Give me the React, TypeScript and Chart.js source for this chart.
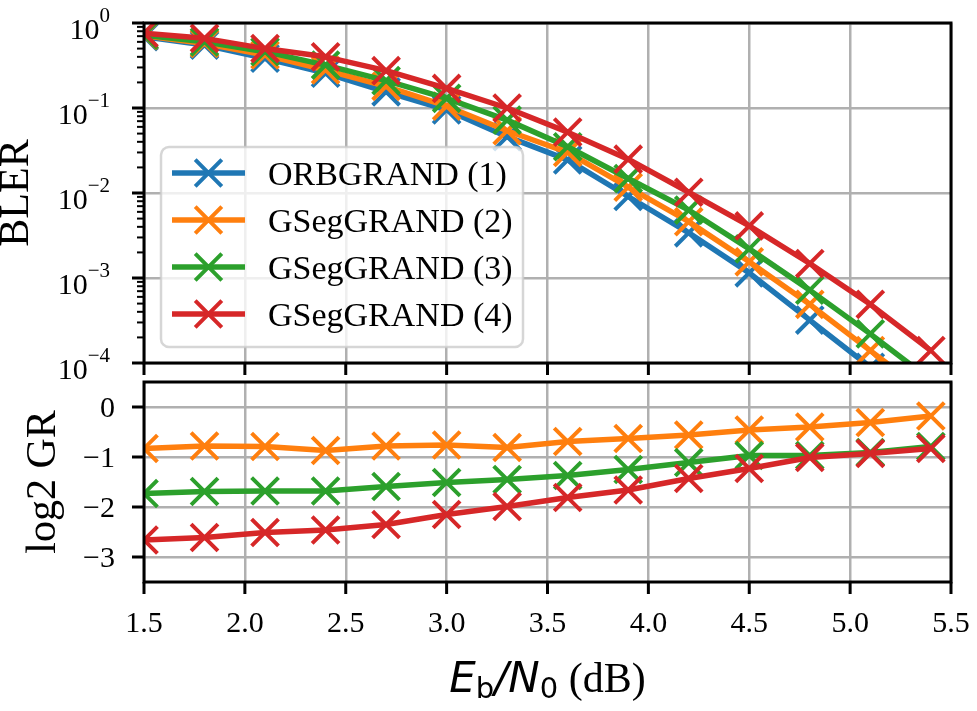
import React, { useEffect, useRef } from "react";
import { Chart, registerables } from "chart.js";

Chart.register(...registerables);

const W = 977;
const H = 711;

// Eb/N0 operating points (dB)
const ebn0 = [1.5, 1.8, 2.1, 2.4, 2.7, 3.0, 3.3, 3.6, 3.9, 4.2, 4.5, 4.8, 5.1, 5.4];

// Axis tick values
const xTicks = [1.5, 2.0, 2.5, 3.0, 3.5, 4.0, 4.5, 5.0, 5.5];
const blerTicks = [1e-4, 1e-3, 1e-2, 1e-1, 1];
const grTicks = [-3, -2, -1, 0];

const seriesNames = ["ORBGRAND (1)", "GSegGRAND (2)", "GSegGRAND (3)", "GSegGRAND (4)"];
const seriesColors = ["#1f77b4", "#ff7f0e", "#2ca02c", "#d62728"];

// Block error rate per decoder
const blerOrbgrand1 = [0.69, 0.55, 0.385, 0.257, 0.155, 0.095, 0.046, 0.0245, 0.0091, 0.0034, 0.00115, 0.00032, 0.000089, 0.000025];
const blerGseg2 = [0.71, 0.575, 0.42, 0.28, 0.18, 0.105, 0.054, 0.03, 0.0117, 0.0046, 0.00155, 0.00049, 0.00014, 0.00004];
const blerGseg3 = [0.72, 0.6, 0.46, 0.32, 0.21, 0.13, 0.072, 0.035, 0.0148, 0.0063, 0.0022, 0.00072, 0.00022, 0.000063];
const blerGseg4 = [0.76, 0.66, 0.5, 0.4, 0.275, 0.17, 0.1, 0.052, 0.025, 0.0102, 0.0041, 0.00148, 0.00049, 0.00014];

// log2 of guesswork ratio relative to ORBGRAND
const grGseg2 = [-0.83, -0.78, -0.79, -0.87, -0.78, -0.76, -0.81, -0.69, -0.63, -0.56, -0.46, -0.4, -0.31, -0.18];
const grGseg3 = [-1.73, -1.69, -1.68, -1.68, -1.59, -1.51, -1.45, -1.37, -1.25, -1.11, -0.97, -0.97, -0.91, -0.79];
const grGseg4 = [-2.66, -2.61, -2.51, -2.46, -2.35, -2.15, -1.99, -1.81, -1.66, -1.43, -1.23, -1.01, -0.93, -0.83];

const SERIF = "'Liberation Serif', 'Times New Roman', Times, serif";
const SANS = "'DejaVu Sans', sans-serif";
const GRID = "#b0b0b0";

const TOP_AREA = { left: 144, right: 951, top: 23, bottom: 363 };
const BOTTOM_AREA = { left: 144, right: 951, top: 382, bottom: 582 };

const TICK_FONT = 30;
const LABEL_FONT = 42;
const LEGEND_FONT = 34;

function line(ctx: CanvasRenderingContext2D, x1: number, y1: number, x2: number, y2: number, w: number, color = "#000") {
  ctx.beginPath();
  ctx.moveTo(x1, y1);
  ctx.lineTo(x2, y2);
  ctx.lineWidth = w;
  ctx.strokeStyle = color;
  ctx.lineCap = "butt";
  ctx.stroke();
}

function drawCross(ctx: CanvasRenderingContext2D, cx: number, cy: number, half: number, color: string, lw: number) {
  ctx.beginPath();
  ctx.moveTo(cx - half, cy - half);
  ctx.lineTo(cx + half, cy + half);
  ctx.moveTo(cx - half, cy + half);
  ctx.lineTo(cx + half, cy - half);
  ctx.strokeStyle = color;
  ctx.lineWidth = lw;
  ctx.lineCap = "butt";
  ctx.stroke();
}

function roundRectPath(ctx: CanvasRenderingContext2D, x: number, y: number, w: number, h: number, r: number) {
  ctx.beginPath();
  ctx.moveTo(x + r, y);
  ctx.lineTo(x + w - r, y);
  ctx.arcTo(x + w, y, x + w, y + r, r);
  ctx.lineTo(x + w, y + h - r);
  ctx.arcTo(x + w, y + h, x + w - r, y + h, r);
  ctx.lineTo(x + r, y + h);
  ctx.arcTo(x, y + h, x, y + h - r, r);
  ctx.lineTo(x, y + r);
  ctx.arcTo(x, y, x + r, y, r);
  ctx.closePath();
}

function drawFrameAndXTicks(chart: any, showLabels: boolean) {
  const { ctx, chartArea: a } = chart;
  const xs = chart.scales.x;
  ctx.save();
  for (const v of xTicks) {
    const px = xs.getPixelForValue(v);
    line(ctx, px, a.bottom, px, a.bottom + 12, 3);
    if (showLabels) {
      ctx.font = `${TICK_FONT}px ${SERIF}`;
      ctx.fillStyle = "#000";
      ctx.textAlign = "center";
      ctx.textBaseline = "alphabetic";
      ctx.fillText(v.toFixed(1), px, a.bottom + 50);
    }
  }
  ctx.strokeStyle = "#000";
  ctx.lineWidth = 3;
  ctx.strokeRect(a.left, a.top, a.right - a.left, a.bottom - a.top);
  ctx.restore();
}

const topDecorations = {
  id: "topDecorations",
  afterDraw(chart: any) {
    const { ctx, chartArea: a } = chart;
    const ys = chart.scales.y;
    drawFrameAndXTicks(chart, false);
    ctx.save();
    // minor ticks on the log axis
    for (let k = -4; k < 0; k++) {
      for (let m = 2; m <= 9; m++) {
        const py = ys.getPixelForValue(m * Math.pow(10, k));
        line(ctx, a.left - 7, py, a.left, py, 2);
      }
    }
    // major ticks with 10^k labels
    for (const v of blerTicks) {
      const py = ys.getPixelForValue(v);
      line(ctx, a.left - 12, py, a.left, py, 3);
      const k = Math.round(Math.log10(v));
      const exp = k === 0 ? "0" : "\u2212" + Math.abs(k);
      ctx.fillStyle = "#000";
      ctx.textBaseline = "alphabetic";
      ctx.textAlign = "left";
      ctx.font = `21px ${SERIF}`;
      const ew = ctx.measureText(exp).width;
      ctx.font = `${TICK_FONT}px ${SERIF}`;
      const bw = ctx.measureText("10").width;
      const right = 110;
      ctx.fillText("10", right - ew - bw, py + 16);
      ctx.font = `21px ${SERIF}`;
      ctx.fillText(exp, right - ew, py - 1.5);
    }
    // y axis title
    ctx.save();
    ctx.translate(28, (a.top + a.bottom) / 2);
    ctx.rotate(-Math.PI / 2);
    ctx.font = `${LABEL_FONT}px ${SERIF}`;
    ctx.textAlign = "center";
    ctx.textBaseline = "alphabetic";
    ctx.fillStyle = "#000";
    ctx.fillText("BLER", 0, 0);
    ctx.restore();

    // legend
    const lx = 161, ly = 147, lw = 362, lh = 200;
    roundRectPath(ctx, lx, ly, lw, lh, 8);
    ctx.fillStyle = "rgba(255,255,255,0.8)";
    ctx.fill();
    ctx.strokeStyle = "rgba(204,204,204,0.8)";
    ctx.lineWidth = 2.5;
    ctx.stroke();
    const rows = [173, 220, 267, 314];
    seriesNames.forEach((name, i) => {
      const y = rows[i];
      line(ctx, 172, y, 245, y, 5.5, seriesColors[i]);
      drawCross(ctx, 208.5, y, 13.3, seriesColors[i], 4);
      ctx.font = `${LEGEND_FONT}px ${SERIF}`;
      ctx.fillStyle = "#000";
      ctx.textAlign = "left";
      ctx.textBaseline = "alphabetic";
      ctx.fillText(name, 268, y + 11.5);
    });
    ctx.restore();
  },
};

const bottomDecorations = {
  id: "bottomDecorations",
  afterDraw(chart: any) {
    const { ctx, chartArea: a } = chart;
    const ys = chart.scales.y;
    drawFrameAndXTicks(chart, true);
    ctx.save();
    for (const v of grTicks) {
      const py = ys.getPixelForValue(v);
      line(ctx, a.left - 12, py, a.left, py, 3);
      ctx.font = `${TICK_FONT}px ${SERIF}`;
      ctx.fillStyle = "#000";
      ctx.textAlign = "right";
      ctx.textBaseline = "alphabetic";
      ctx.fillText(v < 0 ? "\u2212" + Math.abs(v) : String(v), 115, py + 10);
    }
    // y axis title
    ctx.save();
    ctx.translate(55, (a.top + a.bottom) / 2);
    ctx.rotate(-Math.PI / 2);
    ctx.font = `${LABEL_FONT}px ${SERIF}`;
    ctx.textAlign = "center";
    ctx.textBaseline = "alphabetic";
    ctx.fillStyle = "#000";
    ctx.fillText("log2 GR", 0, 0);
    ctx.restore();

    // x axis title: E_b/N_0 (dB)
    const pieces = [
      { t: "E", f: `oblique ${LABEL_FONT}px ${SANS}`, dy: 0 },
      { t: "b", f: `29px ${SANS}`, dy: 6 },
      { t: "/", f: `oblique ${LABEL_FONT}px ${SANS}`, dy: 0 },
      { t: "N", f: `oblique ${LABEL_FONT}px ${SANS}`, dy: 0 },
      { t: "0", f: `29px ${SANS}`, dy: 6 },
      { t: " (dB)", f: `${LABEL_FONT}px ${SERIF}`, dy: 0 },
    ];
    let total = 0;
    const widths = pieces.map((p) => {
      ctx.font = p.f;
      const w = ctx.measureText(p.t).width;
      total += w;
      return w;
    });
    let x = (a.left + a.right) / 2 - total / 2;
    const base = 692;
    ctx.textAlign = "left";
    ctx.textBaseline = "alphabetic";
    ctx.fillStyle = "#000";
    pieces.forEach((p, i) => {
      ctx.font = p.f;
      ctx.fillText(p.t, x, base + p.dy);
      x += widths[i];
    });
    ctx.restore();
  },
};

function makeDataset(label: string, values: number[], color: string, order: number) {
  return {
    label,
    data: ebn0.map((x, i) => ({ x, y: values[i] })),
    borderColor: color,
    backgroundColor: color,
    borderWidth: 5.5,
    borderJoinStyle: "round" as const,
    pointStyle: "crossRot" as const,
    pointRadius: 19,
    pointBorderWidth: 4,
    pointBorderColor: color,
    pointBackgroundColor: color,
    tension: 0,
    clip: 0,
    order,
  };
}

function xScale(area: typeof TOP_AREA) {
  return {
    type: "linear" as const,
    min: 1.5,
    max: 5.5,
    afterBuildTicks: (s: any) => {
      s.ticks = xTicks.map((v) => ({ value: v }));
    },
    afterFit: (s: any) => {
      s.height = H - area.bottom;
    },
    ticks: { display: false },
    grid: { color: GRID, lineWidth: 2.5, drawTicks: false },
    border: { display: false },
  };
}

function commonOptions(area: typeof TOP_AREA) {
  return {
    responsive: false,
    maintainAspectRatio: false,
    animation: false as const,
    devicePixelRatio: 1,
    events: [] as any[],
    layout: { padding: { left: 0, top: area.top, right: W - area.right, bottom: 0 } },
    plugins: {
      legend: { display: false },
      tooltip: { enabled: false },
      title: { display: false },
    },
  };
}

export default function App() {
  const topRef = useRef<HTMLCanvasElement>(null);
  const bottomRef = useRef<HTMLCanvasElement>(null);

  useEffect(() => {
    const top = new Chart(topRef.current!, {
      type: "line",
      data: {
        datasets: [
          makeDataset(seriesNames[0], blerOrbgrand1, seriesColors[0], 3),
          makeDataset(seriesNames[1], blerGseg2, seriesColors[1], 2),
          makeDataset(seriesNames[2], blerGseg3, seriesColors[2], 1),
          makeDataset(seriesNames[3], blerGseg4, seriesColors[3], 0),
        ],
      },
      options: {
        ...commonOptions(TOP_AREA),
        scales: {
          x: xScale(TOP_AREA),
          y: {
            type: "logarithmic",
            min: 1e-4,
            max: 1,
            afterBuildTicks: (s: any) => {
              s.ticks = blerTicks.map((v) => ({ value: v }));
            },
            afterFit: (s: any) => {
              s.width = TOP_AREA.left;
            },
            ticks: { display: false },
            grid: { color: GRID, lineWidth: 2.5, drawTicks: false },
            border: { display: false },
          },
        },
      } as any,
      plugins: [topDecorations],
    });

    const bottom = new Chart(bottomRef.current!, {
      type: "line",
      data: {
        datasets: [
          makeDataset(seriesNames[1], grGseg2, seriesColors[1], 2),
          makeDataset(seriesNames[2], grGseg3, seriesColors[2], 1),
          makeDataset(seriesNames[3], grGseg4, seriesColors[3], 0),
        ],
      },
      options: {
        ...commonOptions(BOTTOM_AREA),
        scales: {
          x: xScale(BOTTOM_AREA),
          y: {
            type: "linear",
            min: -3.5,
            max: 0.5,
            afterBuildTicks: (s: any) => {
              s.ticks = grTicks.map((v) => ({ value: v }));
            },
            afterFit: (s: any) => {
              s.width = BOTTOM_AREA.left;
            },
            ticks: { display: false },
            grid: { color: GRID, lineWidth: 2.5, drawTicks: false },
            border: { display: false },
          },
        },
      } as any,
      plugins: [bottomDecorations],
    });

    return () => {
      top.destroy();
      bottom.destroy();
    };
  }, []);

  const canvasStyle: React.CSSProperties = { position: "absolute", left: 0, top: 0, width: W, height: H };
  return (
    <div style={{ position: "fixed", left: 0, top: 0, width: W, height: H, background: "#fff" }}>
      <canvas ref={topRef} width={W} height={H} style={canvasStyle} />
      <canvas ref={bottomRef} width={W} height={H} style={canvasStyle} />
    </div>
  );
}
